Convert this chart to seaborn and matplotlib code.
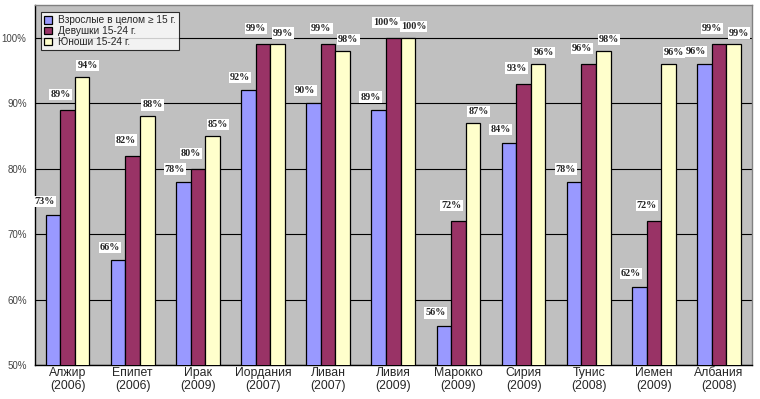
import pandas as pd
import matplotlib
matplotlib.use("Agg")
import matplotlib.pyplot as plt
import seaborn as sns
import numpy as np

# data
countries = ["Алжир\n(2006)", "Епипет\n(2006)", "Ирак\n(2009)", "Иордания\n(2007)",
             "Ливан\n(2007)", "Ливия\n(2009)", "Марокко\n(2009)", "Сирия\n(2009)",
             "Тунис\n(2008)", "Йемен\n(2009)", "Албания\n(2008)"]
series = ["Взрослые в целом ≥ 15 г.", "Девушки 15-24 г.", "Юноши 15-24 г."]
adults = [73, 66, 78, 92, 90, 89, 56, 84, 78, 62, 96]
girls = [89, 82, 80, 99, 99, 100, 72, 93, 96, 72, 99]
boys = [94, 88, 85, 99, 98, 100, 87, 96, 98, 96, 99]

df = pd.DataFrame({
    "country": countries * 3,
    "group": [series[0]] * 11 + [series[1]] * 11 + [series[2]] * 11,
    "value": adults + girls + boys,
})

sns.set_style("white")
plt.rcParams['font.family'] = ['Liberation Sans', 'DejaVu Sans']

fig = plt.figure(figsize=(7.6, 3.99), dpi=100)
ax = fig.add_axes([0.046, 0.085, 0.943, 0.902])
ax.set_facecolor("#c0c0c0")

colors = ["#9999ff", "#993366", "#ffffcc"]
sns.barplot(data=df, x="country", y="value", hue="group", palette=colors,
            saturation=1, width=0.67, edgecolor="black", linewidth=0.9,
            ax=ax, zorder=3)

ax.set_ylim(50, 105)
ax.set_xlim(-0.5, 10.5)
ax.set_yticks(range(50, 101, 10))
ax.set_yticklabels([f"{v}%" for v in range(50, 101, 10)], fontsize=7, color="#444444")
ax.yaxis.grid(True, color="black", linewidth=0.8, zorder=0)
ax.set_axisbelow(True)
ax.tick_params(axis="y", length=5, width=0.8, color="black", pad=1)
ax.tick_params(axis="x", length=0, labelsize=8.8, pad=1.5)
for t in ax.get_xticklabels():
    t.set_linespacing(1.05)
ax.set_xticks(np.arange(-0.5, 11, 1), minor=True)
ax.tick_params(axis="x", which="minor", length=4, width=0.8, color="black")
ax.set_xlabel("")
ax.set_ylabel("")
for s in ax.spines.values():
    s.set_color("#808080")
    s.set_linewidth(1)
ax.spines["bottom"].set_color("black")
ax.spines["left"].set_color("black")

# value labels, nudged like in the original so neighbours do not collide
shifts = [(-6, 6), (-5, 8), (4, 5)]
for cont, (dx, dy) in zip(ax.containers, shifts):
    for bar in cont:
        h = bar.get_height()
        ax.annotate(f"{h:.0f}%", (bar.get_x() + bar.get_width() / 2, h),
                    xytext=(dx, dy), textcoords="offset points",
                    ha="center", va="bottom", fontsize=7.3, fontweight="bold",
                    family="Liberation Serif", zorder=5,
                    bbox=dict(facecolor="white", edgecolor="none", pad=0.8))

leg = ax.legend(loc="upper left", bbox_to_anchor=(0.009, 0.98), fontsize=7.3,
                frameon=True, fancybox=False, edgecolor="black",
                handlelength=0.75, handleheight=0.75, handletextpad=0.6,
                borderpad=0.3, labelspacing=0.08, borderaxespad=0)
leg.get_frame().set_linewidth(0.8)
leg.set_zorder(6)

fig.savefig("out.png", dpi=100, facecolor="white")
